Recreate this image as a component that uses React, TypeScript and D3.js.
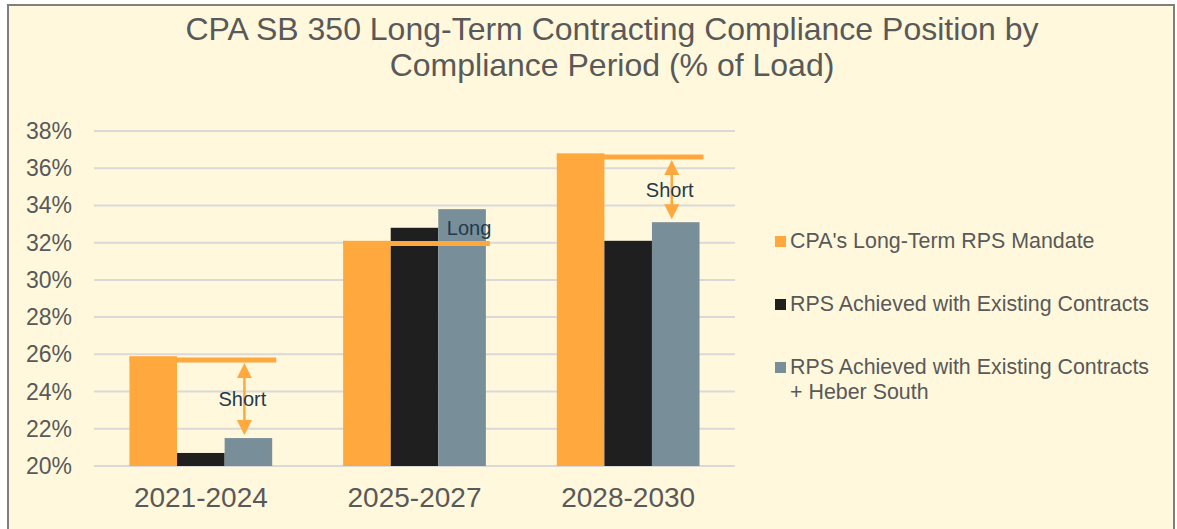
import React, { useEffect } from "react";
import * as d3 from "d3";

// chart data
const periods = ["2021-2024", "2025-2027", "2028-2030"];
const seriesNames = [
  "CPA's Long-Term RPS Mandate",
  "RPS Achieved with Existing Contracts",
  "RPS Achieved with Existing Contracts + Heber South",
];
const mandate = [25.9, 32.1, 36.8];
const existing = [20.7, 32.8, 32.1];
const withHeber = [21.5, 33.8, 33.1];
const mandateLine = [25.7, 31.95, 36.6];
const positionLabels = ["Short", "Long", "Short"];
const yTicks = [20, 22, 24, 26, 28, 30, 32, 34, 36, 38];

const colors = ["#FFA83E", "#1F1F1F", "#788E99"];
const W = 1177;
const H = 529;
const margin = { left: 94, right: 442, top: 131, bottom: 63 };
const font = "'Liberation Sans', Arial, sans-serif";

export default function App() {
  useEffect(() => {
    document.body.style.margin = "0";
  }, []);

  const x = d3
    .scaleBand()
    .domain(periods)
    .range([margin.left, W - margin.right])
    .paddingInner(0)
    .paddingOuter(0);
  const groupW = x.bandwidth() * 0.668;
  const x1 = d3.scaleBand().domain(["0", "1", "2"]).range([0, groupW]);
  const y = d3.scaleLinear().domain([20, 38]).range([H - margin.bottom, margin.top]);

  const series = [mandate, existing, withHeber];
  const groupLeft = (p: string) => x(p)! + (x.bandwidth() - groupW) / 2;

  const arrowHead = (cx: number, tip: number, dir: number) =>
    `M${cx},${tip} L${cx - 7.5},${tip + dir * 15} L${cx + 7.5},${tip + dir * 15} Z`;

  return (
    <svg width={W} height={H} style={{ display: "block" }} fontFamily={font}>
      <rect x={0} y={0} width={W} height={H} fill="#ffffff" />
      <rect x={8} y={5} width={1166} height={H + 20} fill="#FFF8DC" stroke="#7F7F7F" strokeWidth={2} />

      <text x={612} y={40} textAnchor="middle" fontSize={32} fill="#595959">
        CPA SB 350 Long-Term Contracting Compliance Position by
      </text>
      <text x={612} y={76} textAnchor="middle" fontSize={32} fill="#595959">
        Compliance Period (% of Load)
      </text>

      {/* grid + y axis */}
      {yTicks.map((t) => (
        <g key={t}>
          <line
            x1={margin.left}
            x2={W - margin.right}
            y1={y(t)}
            y2={y(t)}
            stroke="#D9D9D9"
            strokeWidth={2}
          />
          <text x={72} y={y(t)} dy="0.35em" textAnchor="end" fontSize={23} fill="#595959">
            {t}%
          </text>
        </g>
      ))}

      {/* bars */}
      {periods.map((p, i) => (
        <g key={p} transform={`translate(${groupLeft(p)},0)`}>
          {series.map((s, j) => (
            <rect
              key={j}
              x={x1(String(j))!}
              y={y(s[i])}
              width={x1.bandwidth()}
              height={y(20) - y(s[i])}
              fill={colors[j]}
            />
          ))}
        </g>
      ))}

      {/* mandate lines and gap annotations */}
      {periods.map((p, i) => {
        const gx = groupLeft(p);
        const ly = y(mandateLine[i]);
        const greyC = gx + x1("2")! + x1.bandwidth() / 2;
        const short = positionLabels[i] === "Short";
        const ax = greyC - 4;
        const top = ly + 3;
        const bot = y(withHeber[i]) - 3;
        return (
          <g key={p}>
            <line x1={gx} x2={gx + groupW + 4} y1={ly} y2={ly} stroke={colors[0]} strokeWidth={5} />
            {short ? (
              <>
                <line x1={ax} x2={ax} y1={top + 10} y2={bot - 10} stroke={colors[0]} strokeWidth={2.5} />
                <path d={arrowHead(ax, top, 1)} fill={colors[0]} />
                <path d={arrowHead(ax, bot, -1)} fill={colors[0]} />
                <text
                  x={ax - 2}
                  y={(top + bot) / 2}
                  dy="0.35em"
                  textAnchor="middle"
                  fontSize={20}
                  fill="#1F3B4D"
                >
                  {positionLabels[i]}
                </text>
              </>
            ) : (
              <text x={greyC + 7} y={ly - 16} dy="0.35em" textAnchor="middle" fontSize={20} fill="#1F3B4D">
                {positionLabels[i]}
              </text>
            )}
          </g>
        );
      })}

      {/* x axis labels */}
      {periods.map((p) => (
        <text
          key={p}
          x={x(p)! + x.bandwidth() / 2}
          y={507}
          textAnchor="middle"
          fontSize={28}
          fill="#595959"
        >
          {p}
        </text>
      ))}

      {/* legend */}
      {seriesNames.map((n, i) => {
        const ly = 241 + i * 63;
        const lines = i === 2 ? ["RPS Achieved with Existing Contracts", "+ Heber South"] : [n];
        return (
          <g key={n}>
            <rect x={775} y={ly - 5} width={11} height={11} fill={colors[i]} />
            {lines.map((l, k) => (
              <text key={k} x={790} y={ly + k * 25} dy="0.35em" fontSize={21.4} fill="#595959">
                {l}
              </text>
            ))}
          </g>
        );
      })}
    </svg>
  );
}
